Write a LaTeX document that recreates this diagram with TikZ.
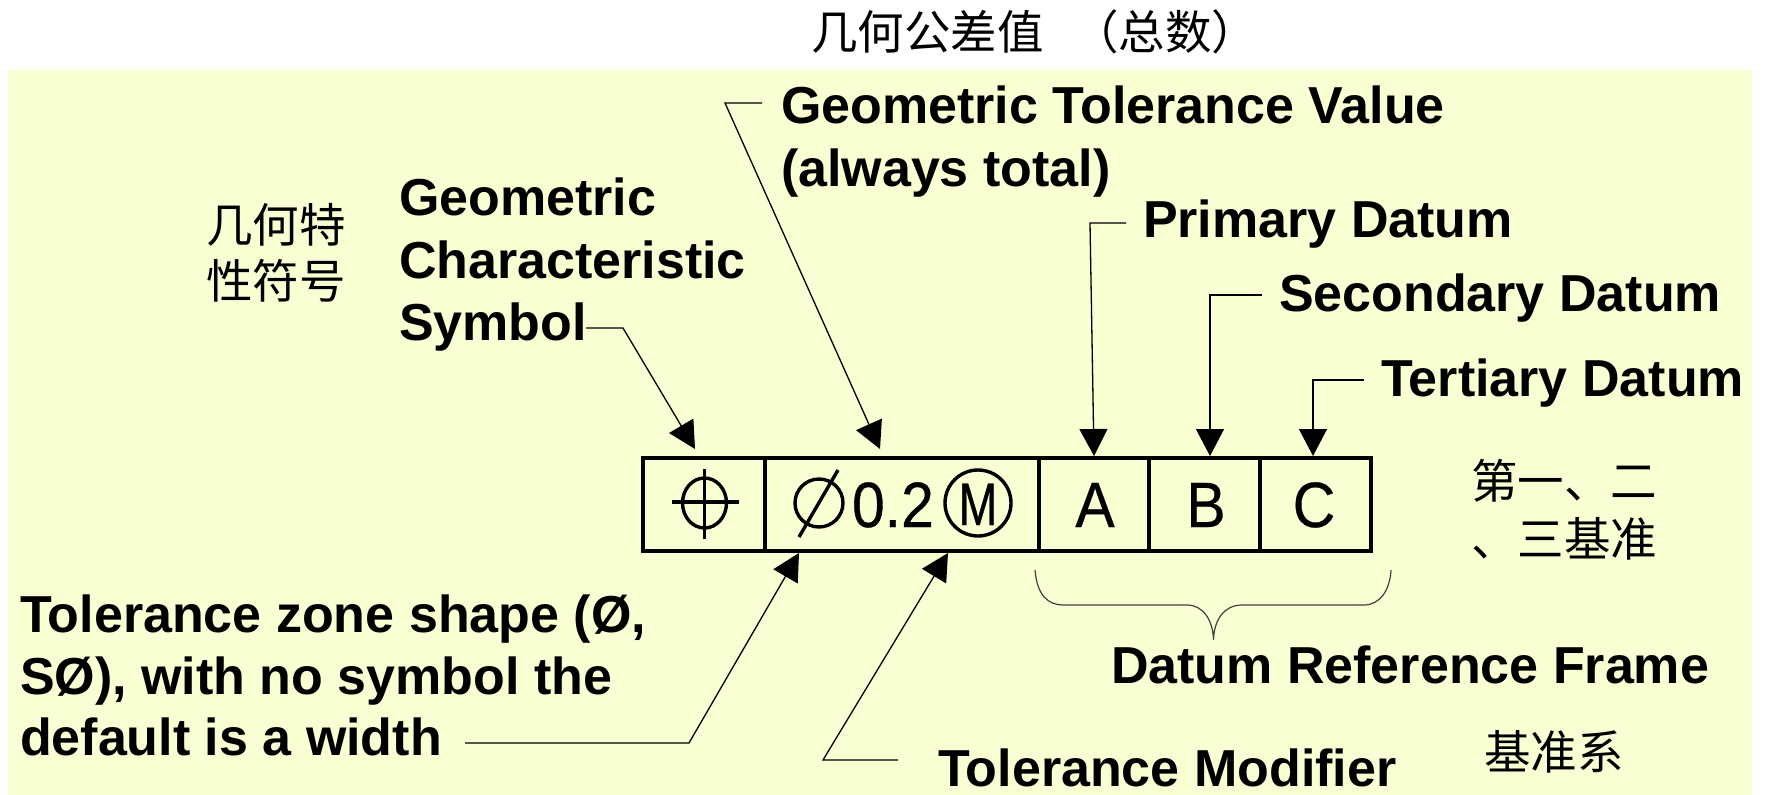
\documentclass[tikz,border=0pt]{standalone}
\usepackage{fontspec}
\setmainfont{Liberation Sans}
\newfontfamily\cjk{Noto Sans CJK SC}
\newfontfamily\narrowf[FakeStretch=0.92,FakeBold=0.5]{Liberation Sans}
\newfontfamily\narrowm[FakeStretch=0.78,FakeBold=0.5]{Liberation Sans}
\usetikzlibrary{arrows.meta}
\definecolor{panel}{HTML}{F8FFD2}
\tikzset{
  cellbox/.style={draw=black,line width=4.5pt,rectangle,inner sep=0pt,outer sep=0pt,anchor=north west,minimum height=93pt},
  lab/.style={inner sep=0pt,outer sep=0pt,anchor=base west,align=left,font=\fontsize{52}{52}\selectfont\bfseries},
  cn/.style={inner sep=0pt,outer sep=0pt,font=\fontsize{46.5}{46.5}\selectfont\cjk},
  gly/.style={inner sep=0pt,outer sep=0pt,font=\fontsize{64}{64}\selectfont\narrowf},
  leader/.style={draw=black,line width=1.3pt,-{Triangle[length=27pt,width=28pt]}},
  thinl/.style={draw=black!75,line width=1.2pt},
  symb/.style={draw=black,line width=3.4pt}
}
\begin{document}
\begin{tikzpicture}[x=1pt,y=-1pt]
\useasboundingbox (0,0) rectangle (1765,795);
\fill[panel] (8,70) rectangle (1752,795);
% frame cells
\node[cellbox,minimum width=122pt] (cSym) at (643,458) {};
\node[cellbox,minimum width=274pt] (cTol) at (765,458) {};
\node[cellbox,minimum width=110pt] (cA) at (1039,458) {};
\node[cellbox,minimum width=111pt] (cB) at (1149,458) {};
\node[cellbox,minimum width=111pt] (cC) at (1260,458) {};
% position symbol
\draw[symb] (704.5,503) ellipse (22pt and 25pt);
\draw[symb] (672,502) -- (739,502);
\draw[symb] (704.5,469) -- (704.5,539);
% tolerance contents
\draw[symb] (819,503) ellipse (24pt and 24pt);
\draw[symb] (799,537) -- (838,470);
\node[gly,anchor=base west] (val) at (852,527) {0.2};
\draw[symb] (978,503) ellipse (33pt and 33pt);
\node[inner sep=0pt,anchor=base,font=\fontsize{60}{60}\selectfont\narrowm] (mm) at (978,525) {M};
\node[gly,anchor=base] (la) at (1095,527) {A};
\node[gly,anchor=base] (lb) at (1206,527) {B};
\node[gly,anchor=base] (lc) at (1314,527) {C};
% labels
\node[lab] (tGTV) at (781,123) {Geometric Tolerance Value};
\node[lab] (tAT) at (781,186) {(always total)};
\node[lab] (tG) at (399,215) {Geometric};
\node[lab] (tCh) at (399,278) {Characteristic};
\node[lab] (tSy) at (399,340) {Symbol};
\node[lab] (tP) at (1143,237) {Primary Datum};
\node[lab] (tS) at (1279,311) {Secondary Datum};
\node[lab] (tT) at (1381,396) {Tertiary Datum};
\node[lab] (tD) at (1111,683) {Datum Reference Frame};
\node[lab] (tM) at (938,786) {Tolerance Modifier};
\node[lab] (tZ1) at (20,632) {Tolerance zone shape (Ø,};
\node[lab] (tZ2) at (20,694) {SØ), with no symbol the};
\node[lab] (tZ3) at (20,755) {default is a width};
% Chinese
\node[cn,anchor=west] (z1) at (811,32) {几何公差值\kern29pt（总数）};
\node[cn] (z2) at (276,225) {几何特};
\node[cn] (z3) at (276,281) {性符号};
\node[cn] (z4) at (1564,481) {第一、二};
\node[cn] (z5) at (1564,539) {、三基准};
\node[cn] (z6) at (1554,752) {基准系};
% leader coordinates
\coordinate (a1) at (586,328); \coordinate (a2) at (623,328); \coordinate (a3) at (695,449);
\coordinate (b1) at (762,103); \coordinate (b2) at (725,103); \coordinate (b3) at (880,449);
\coordinate (c1) at (1126,223); \coordinate (c2) at (1090,223); \coordinate (c3) at (1094,456);
\coordinate (d1) at (1262,295); \coordinate (d2) at (1210,295); \coordinate (d3) at (1210,456);
\coordinate (e1) at (1364,380); \coordinate (e2) at (1313,380); \coordinate (e3) at (1313,456);
\coordinate (f1) at (465,743); \coordinate (f2) at (689,743); \coordinate (f3) at (799,553);
\coordinate (g1) at (898,760); \coordinate (g2) at (823,760); \coordinate (g3) at (948,553);
\draw[leader] (a1) -- (a2) -- (a3);
\draw[leader] (b1) -- (b2) -- (b3);
\draw[leader] (c1) -- (c2) -- (c3);
\draw[leader] (d1) -- (d2) -- (d3);
\draw[leader] (e1) -- (e2) -- (e3);
\draw[leader] (f1) -- (f2) -- (f3);
\draw[leader] (g1) -- (g2) -- (g3);
% brace
\coordinate (br1) at (1035,570); \coordinate (br2) at (1063,605); \coordinate (br3) at (1187,605);
\coordinate (br4) at (1213.5,640); \coordinate (br5) at (1242,605); \coordinate (br6) at (1364,605); \coordinate (br7) at (1391,570);
\draw[thinl] (br1) .. controls (1037,595) and (1048,605) .. (br2) -- (br3)
  .. controls (1203,605) and (1213,620) .. (br4)
  .. controls (1214,620) and (1224,605) .. (br5) -- (br6)
  .. controls (1380,605) and (1390,590) .. (br7);
\end{tikzpicture}
\end{document}
